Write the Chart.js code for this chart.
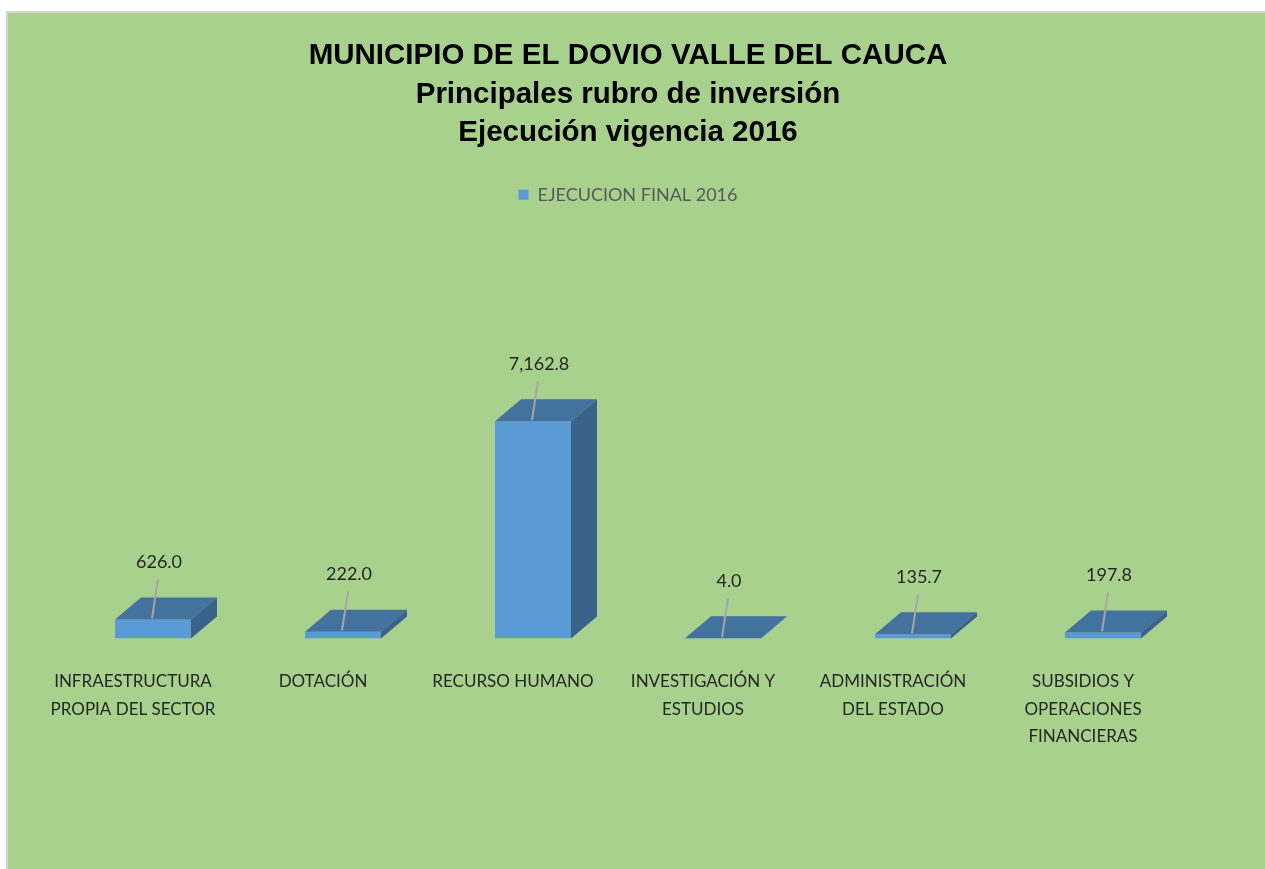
<!DOCTYPE html>
<html>
<head>
<meta charset="utf-8">
<title>Principales rubro de inversión 2016</title>
<script src="https://cdn.jsdelivr.net/npm/chart.js"></script>
<style>
  html, body { margin: 0; padding: 0; background: #ffffff; overflow: hidden; }
  #frame {
    position: absolute; left: 6px; top: 11px; width: 1265px; height: 869px;
    border-left: 2px solid #d4d4d4; border-top: 2px solid #d4d4d4;
    background: #a9d18e;
  }
  #chart { position: absolute; left: 0; top: 0; }
</style>
</head>
<body>
<div id="frame"><canvas id="chart" width="1257" height="856"></canvas></div>
<script>
// Chart data
const categories = [
  ['INFRAESTRUCTURA', 'PROPIA DEL SECTOR'],
  'DOTACIÓN',
  'RECURSO HUMANO',
  ['INVESTIGACIÓN Y', 'ESTUDIOS'],
  ['ADMINISTRACIÓN', 'DEL ESTADO'],
  ['SUBSIDIOS Y', 'OPERACIONES', 'FINANCIERAS']
];
const seriesName = 'EJECUCION FINAL 2016';
const ejecucion = [626.0, 222.0, 7162.8, 4.0, 135.7, 197.8];
const titleLines = ['MUNICIPIO DE EL DOVIO VALLE DEL CAUCA', 'Principales rubro de inversión', 'Ejecución vigencia 2016'];

const bodyFont = 'Lato, "Open Sans", sans-serif';

// draws the top and side faces of each bar, then the value labels with leader lines
const bars3d = {
  id: 'bars3d',
  afterDatasetsDraw(chart) {
    const ctx = chart.ctx;
    const meta = chart.getDatasetMeta(0);
    const dx = 26, dy = 22;
    ctx.save();
    meta.data.forEach((bar, i) => {
      const { x, y, base, width } = bar.getProps(['x', 'y', 'base', 'width'], true);
      const left = x - width / 2, right = x + width / 2;
      // top face
      ctx.fillStyle = '#44729f';
      ctx.beginPath();
      ctx.moveTo(left, y);
      ctx.lineTo(right, y);
      ctx.lineTo(right + dx, y - dy);
      ctx.lineTo(left + dx, y - dy);
      ctx.closePath();
      ctx.fill();
      // side face
      ctx.fillStyle = '#3a6389';
      ctx.beginPath();
      ctx.moveTo(right, y);
      ctx.lineTo(right + dx, y - dy);
      ctx.lineTo(right + dx, base - dy);
      ctx.lineTo(right, base);
      ctx.closePath();
      ctx.fill();

      // value label
      const lx = x + 6, ly = y - 57;
      ctx.strokeStyle = '#a6a6a6';
      ctx.lineWidth = 2;
      ctx.beginPath();
      ctx.moveTo(x - 1, y - 1);
      ctx.lineTo(lx - 1, ly + 17);
      ctx.stroke();
      ctx.fillStyle = '#262626';
      ctx.font = '18px ' + bodyFont;
      ctx.textAlign = 'center';
      ctx.textBaseline = 'middle';
      const v = ejecucion[i].toLocaleString('en-US', { minimumFractionDigits: 1, maximumFractionDigits: 1 });
      ctx.fillText(v, lx, ly);
    });
    ctx.restore();
  }
};

new Chart(document.getElementById('chart'), {
  type: 'bar',
  data: {
    labels: categories,
    datasets: [{
      label: seriesName,
      data: ejecucion,
      backgroundColor: '#5b9bd5',
      borderWidth: 0,
      barPercentage: 0.4,
      categoryPercentage: 1.0
    }]
  },
  options: {
    responsive: false,
    animation: false,
    events: [],
    layout: { padding: { left: 50, right: 67, top: 0, bottom: 89 } },
    scales: {
      x: {
        grid: { display: false, drawTicks: false },
        border: { display: false },
        ticks: {
          color: '#262626',
          font: { family: bodyFont, size: 17, lineHeight: 1.6 },
          padding: 30,
          labelOffset: -20,
          maxRotation: 0,
          autoSkip: false
        }
      },
      y: { display: false, min: 0, max: 14000 }
    },
    plugins: {
      title: {
        display: true,
        text: titleLines,
        color: '#000000',
        font: { family: '"Liberation Sans Narrow", "Arial Narrow", "Liberation Sans", sans-serif', size: 29.5, weight: 'bold', lineHeight: 1.32 },
        padding: { top: 23, bottom: 23 }
      },
      legend: {
        display: true,
        labels: {
          color: '#595959',
          font: { family: bodyFont, size: 18 },
          boxWidth: 10,
          boxHeight: 10
        }
      },
      tooltip: { enabled: false }
    }
  },
  plugins: [bars3d]
});
</script>
</body>
</html>
